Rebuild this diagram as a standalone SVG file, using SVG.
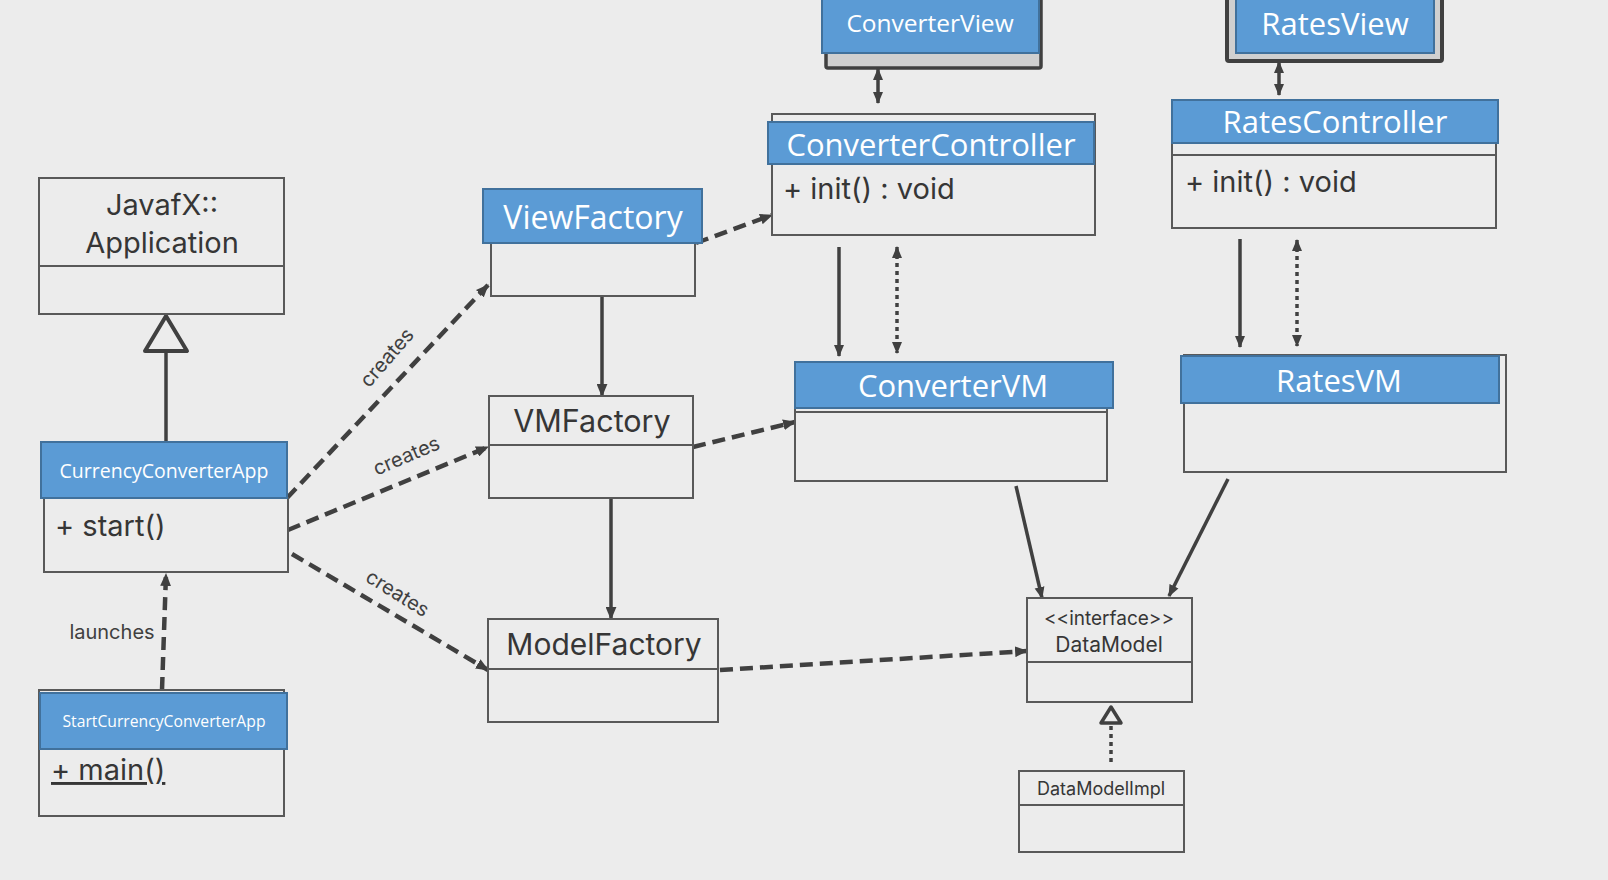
<svg xmlns="http://www.w3.org/2000/svg" width="1608" height="880" viewBox="0 0 1608 880">
<defs>
<marker id="ah" viewBox="0 0 12 10" refX="11" refY="5" markerWidth="13" markerHeight="11" markerUnits="userSpaceOnUse" orient="auto-start-reverse"><path d="M0,0 L12,5 L0,10 z" fill="#404040"/></marker>
<marker id="ahs" viewBox="0 0 12 10" refX="11" refY="5" markerWidth="12" markerHeight="11" markerUnits="userSpaceOnUse" orient="auto-start-reverse"><path d="M0,0 L12,5 L0,10 z" fill="#404040"/></marker>
</defs>
<style>
.box{fill:none;stroke:#595959;stroke-width:2}
.hdr{fill:#5b9bd5;stroke:#41719c;stroke-width:2}
.ht{font-family:"Open Sans","Noto Sans",sans-serif;fill:#ffffff;text-anchor:middle}
.bt{font-family:Inter,"Noto Sans",sans-serif;fill:#363636}
.mid{text-anchor:middle}
.dash{fill:none;stroke:#404040;stroke-width:4.5;stroke-dasharray:13 7}
.solid{fill:none;stroke:#404040;stroke-width:3.5}
.dot{fill:none;stroke:#404040;stroke-width:3.5;stroke-dasharray:4 4}
.lbl{font-family:Inter,"Noto Sans",sans-serif;fill:#404040;font-size:20px;text-anchor:middle}
</style>
<rect width="1608" height="880" fill="#ececec"/>

<g id="connectors">
<line class="solid" x1="166" y1="351" x2="166" y2="442" stroke-width="4"/>
<polygon points="166,316 187,351 145,351" fill="#ececec" stroke="#404040" stroke-width="4" stroke-linejoin="round"/>
<line class="dash" x1="162" y1="690" x2="166" y2="574" marker-end="url(#ah)"/>
<line class="dash" x1="287" y1="498" x2="488" y2="285" marker-end="url(#ah)"/>
<line class="dash" x1="288" y1="530" x2="488" y2="447" marker-end="url(#ah)"/>
<line class="dash" x1="292" y1="554" x2="488" y2="670" marker-end="url(#ah)"/>
<line class="solid" x1="602" y1="296" x2="602" y2="396" marker-end="url(#ah)"/>
<line class="solid" x1="611" y1="497" x2="611" y2="619" marker-end="url(#ah)"/>
<line class="dash" x1="696" y1="243" x2="772" y2="215" marker-end="url(#ah)"/>
<line class="dash" x1="693" y1="447" x2="795" y2="422" marker-end="url(#ah)"/>
<line class="dash" x1="720" y1="670" x2="1027" y2="651" marker-end="url(#ah)"/>
<line class="solid" x1="878" y1="69" x2="878" y2="103" marker-start="url(#ahs)" marker-end="url(#ahs)"/>
<line class="solid" x1="1279" y1="62" x2="1279" y2="95" marker-start="url(#ahs)" marker-end="url(#ahs)"/>
<line class="solid" x1="839" y1="247" x2="839" y2="356" marker-end="url(#ahs)"/>
<line class="dot" x1="897" y1="247" x2="897" y2="353" marker-start="url(#ahs)" marker-end="url(#ahs)"/>
<line class="solid" x1="1240" y1="239" x2="1240" y2="347" marker-end="url(#ahs)"/>
<line class="dot" x1="1297" y1="240" x2="1297" y2="346" marker-start="url(#ahs)" marker-end="url(#ahs)"/>
<line class="solid" x1="1016" y1="486" x2="1042" y2="598" marker-end="url(#ahs)"/>
<line class="solid" x1="1228" y1="479" x2="1169" y2="596" marker-end="url(#ahs)"/>
<line class="dot" x1="1111" y1="762" x2="1111" y2="724"/>
<polygon points="1111,707 1121,723 1101,723" fill="#ececec" stroke="#404040" stroke-width="3.5" stroke-linejoin="round"/>
<text class="lbl" transform="translate(392,362) rotate(-49)">creates</text>
<text class="lbl" transform="translate(409,462) rotate(-23)">creates</text>
<text class="lbl" transform="translate(394,599) rotate(32)">creates</text>
<text class="lbl" x="112" y="639">launches</text>
</g>

<g id="javafx-application">
<rect class="box" x="39" y="178" width="245" height="136"/>
<line class="box" x1="39" y1="266" x2="284" y2="266"/>
<text class="bt mid" x="162" y="215" font-size="29">JavafX::</text>
<text class="bt mid" x="162" y="253" font-size="29">Application</text>
</g>

<g id="currency-converter-app">
<rect class="box" x="44" y="498" width="244" height="74"/>
<rect class="hdr" x="41" y="442" width="246" height="56"/>
<text class="ht" x="164" y="478" font-size="19.5">CurrencyConverterApp</text>
<text class="bt" x="55" y="536" font-size="29">+ start()</text>
</g>

<g id="start-currency-converter-app">
<rect class="box" x="39" y="690" width="245" height="126"/>
<rect class="hdr" x="40" y="693" width="247" height="56"/>
<text class="ht" x="164" y="727" font-size="15.7">StartCurrencyConverterApp</text>
<text class="bt" x="51" y="780" font-size="29" text-decoration="underline">+ main()</text>
</g>

<g id="view-factory">
<rect class="box" x="491" y="243" width="204" height="53"/>
<rect class="hdr" x="483" y="189" width="219" height="54"/>
<text class="ht" x="593" y="229" font-size="32">ViewFactory</text>
</g>

<g id="vm-factory">
<rect class="box" x="489" y="396" width="204" height="102"/>
<line class="box" x1="489" y1="445" x2="693" y2="445"/>
<text class="bt mid" x="592" y="432" font-size="30.5">VMFactory</text>
</g>

<g id="model-factory">
<rect class="box" x="488" y="619" width="230" height="103"/>
<line class="box" x1="488" y1="669" x2="718" y2="669"/>
<text class="bt mid" x="604" y="655" font-size="30">ModelFactory</text>
</g>

<g id="converter-view">
<rect x="826" y="-10" width="215" height="78" fill="#d0d0d0" stroke="#404040" stroke-width="3.5" rx="2"/>
<rect class="hdr" x="822" y="-10" width="217" height="63"/>
<text class="ht" x="930" y="32" font-size="24.5">ConverterView</text>
</g>

<g id="rates-view">
<rect x="1227" y="-10" width="215" height="71" fill="#d0d0d0" stroke="#404040" stroke-width="4" rx="2"/>
<rect class="hdr" x="1236" y="-10" width="198" height="63"/>
<text class="ht" x="1335" y="35" font-size="31">RatesView</text>
</g>

<g id="converter-controller">
<rect class="box" x="772" y="114" width="323" height="121"/>
<rect class="hdr" x="768" y="122" width="326" height="42"/>
<text class="ht" x="931" y="156" font-size="31">ConverterController</text>
<text class="bt" x="783" y="199" font-size="29">+ init() : void</text>
</g>

<g id="rates-controller">
<rect class="box" x="1172" y="143" width="324" height="85"/>
<line class="box" x1="1172" y1="155" x2="1496" y2="155"/>
<rect class="hdr" x="1172" y="100" width="326" height="43"/>
<text class="ht" x="1335" y="133" font-size="31">RatesController</text>
<text class="bt" x="1185" y="192" font-size="29">+ init() : void</text>
</g>

<g id="converter-vm">
<rect class="box" x="795" y="408" width="312" height="73"/>
<line class="box" x1="795" y1="412" x2="1107" y2="412"/>
<rect class="hdr" x="795" y="362" width="318" height="46"/>
<text class="ht" x="953" y="397" font-size="31">ConverterVM</text>
</g>

<g id="rates-vm">
<rect class="box" x="1184" y="355" width="322" height="117"/>
<rect class="hdr" x="1181" y="356" width="318" height="47"/>
<text class="ht" x="1339" y="392" font-size="31">RatesVM</text>
</g>

<g id="data-model">
<rect class="box" x="1027" y="598" width="165" height="104"/>
<line class="box" x1="1027" y1="662" x2="1192" y2="662"/>
<text class="bt mid" x="1109" y="625" font-size="19">&lt;&lt;interface&gt;&gt;</text>
<text class="bt mid" x="1109" y="652" font-size="21">DataModel</text>
</g>

<g id="data-model-impl">
<rect class="box" x="1019" y="771" width="165" height="81"/>
<line class="box" x1="1019" y1="805" x2="1184" y2="805"/>
<text class="bt mid" x="1101" y="795" font-size="18">DataModelImpl</text>
</g>
</svg>
